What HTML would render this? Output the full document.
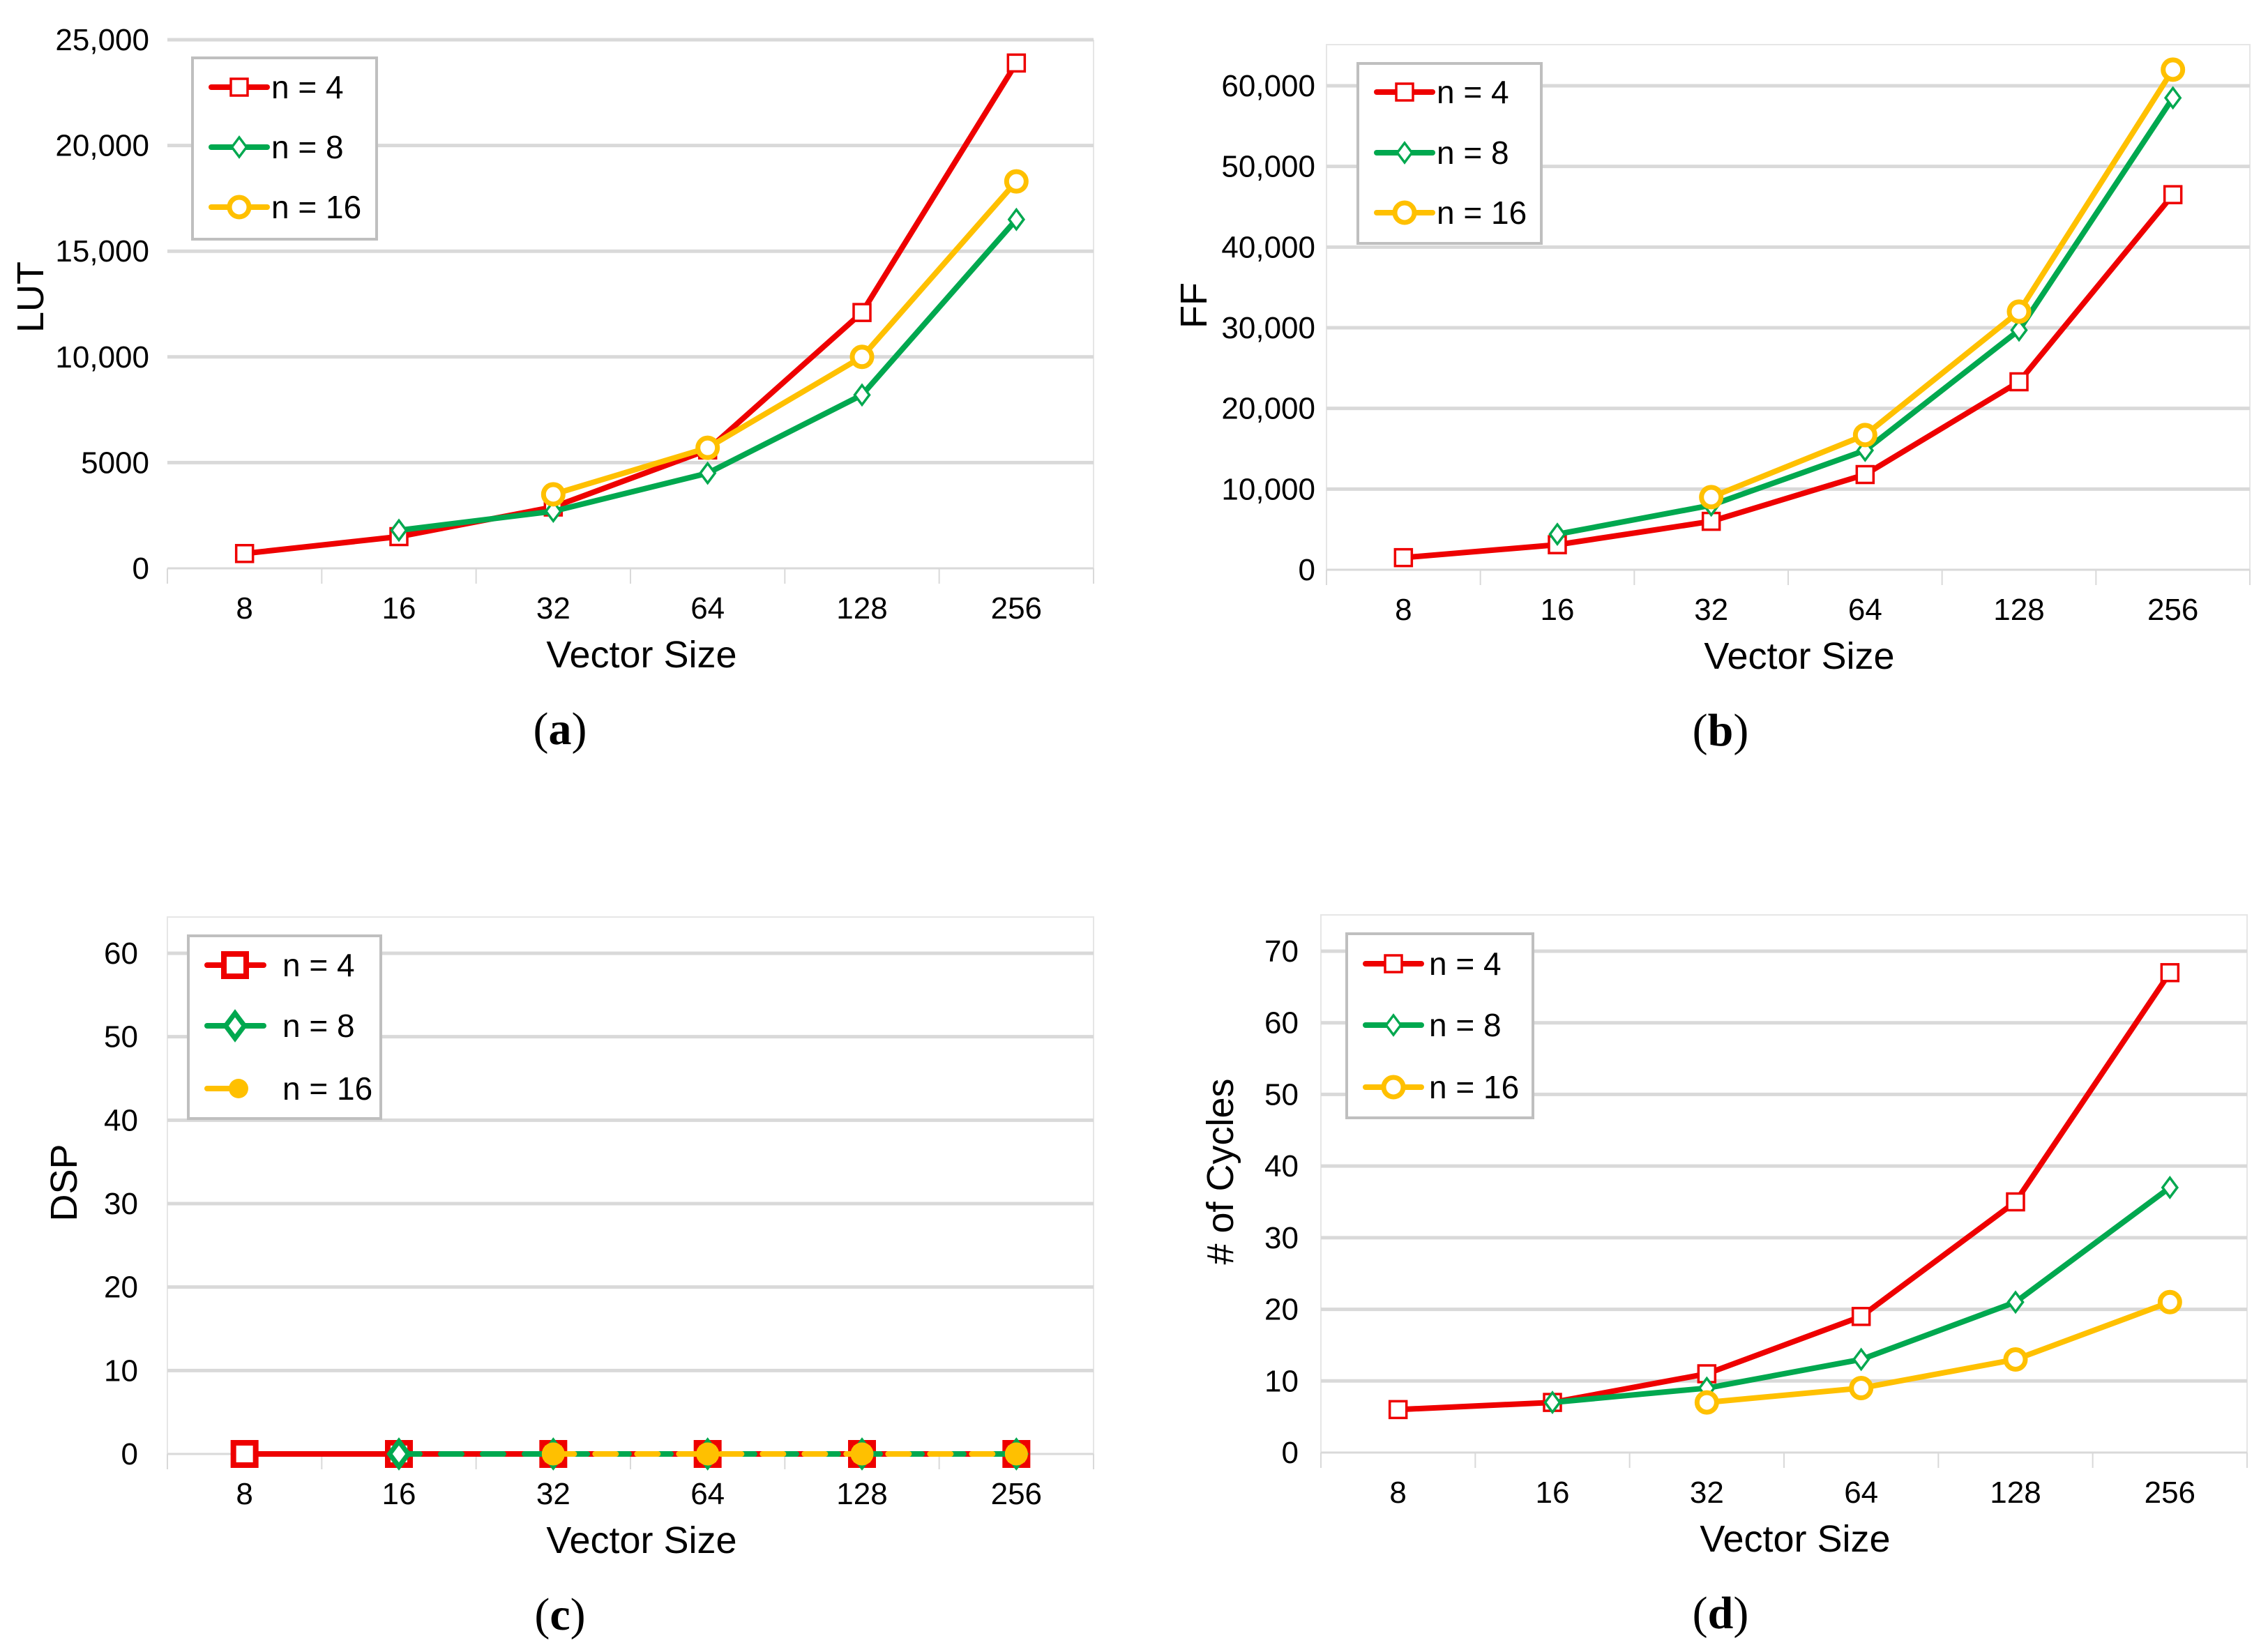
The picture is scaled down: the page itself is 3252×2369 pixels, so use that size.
<!DOCTYPE html>
<html><head><meta charset="utf-8"><style>
html,body{margin:0;padding:0;background:#fff}
svg{display:block}
text{font-family:"Liberation Sans",sans-serif;fill:#000}
text.cap{font-family:"Liberation Serif",serif}
</style></head><body>
<svg id="fig" width="3252" height="2369" viewBox="0 0 3252 2369" xmlns="http://www.w3.org/2000/svg"></svg>
<script>
const categories = ['8','16','32','64','128','256'];
const seriesNames = ['n = 4','n = 8','n = 16'];
// Panel a (LUT)
const lutN4 = [700,1500,2900,5600,12100,23900];
const lutN8 = [null,1800,2700,4500,8200,16500];
const lutN16 = [null,null,3500,5700,10000,18300];
const lutTicks = [0,5000,10000,15000,20000,25000];
const lutTickLabels = ['0','5000','10,000','15,000','20,000','25,000'];
// Panel b (FF)
const ffN4 = [1500,3100,6000,11800,23300,46500];
const ffN8 = [null,4400,8000,14800,29700,58500];
const ffN16 = [null,null,9000,16700,32000,62000];
const ffTicks = [0,10000,20000,30000,40000,50000,60000];
const ffTickLabels = ['0','10,000','20,000','30,000','40,000','50,000','60,000'];
// Panel c (DSP)
const dspN4 = [0,0,0,0,0,0];
const dspN8 = [null,0,0,0,0,0];
const dspN16 = [null,null,0,0,0,0];
const dspTicks = [0,10,20,30,40,50,60];
const dspTickLabels = ['0','10','20','30','40','50','60'];
// Panel d (Cycles)
const cycN4 = [6,7,11,19,35,67];
const cycN8 = [null,7,9,13,21,37];
const cycN16 = [null,null,7,9,13,21];
const cycTicks = [0,10,20,30,40,50,60,70];
const cycTickLabels = ['0','10','20','30','40','50','60','70'];

const NS='http://www.w3.org/2000/svg';
const svg=document.getElementById('fig');
const COLORS=['#ee0000','#00a84f','#ffc000'];
function mk(tag,attrs,parent){const e=document.createElementNS(NS,tag);for(const k in attrs)e.setAttribute(k,attrs[k]);(parent||svg).appendChild(e);return e;}

function panel(cfg){
  const g=mk('g',{});
  
  
  const {x0,x1,yBase,yMaxPix,vMax,frameTop}=cfg;
  const ys=v=>yBase-(v/vMax)*(yBase-yMaxPix);
  const cw=(x1-x0)/categories.length;
  const xs=i=>x0+cw*(i+0.5);
  if(frameTop!==undefined){
    const f=mk('rect',{x:x0,y:frameTop,width:x1-x0,height:yBase-frameTop,fill:'none',stroke:'#e6e6e6','stroke-width':2},g);
    
    
  } else {
    mk('line',{x1:x1,y1:yMaxPix,x2:x1,y2:yBase,stroke:'#e6e6e6','stroke-width':2},g);
  }
  cfg.ticks.forEach((t,i)=>{
    const y=ys(t);
    const gl=mk('line',{x1:x0,y1:y,x2:x1,y2:y,stroke:'#d9d9d9','stroke-width':t===0?3:5},g);
    
    
    const tl=mk('text',{x:cfg.tickRight,y:y+15,'text-anchor':'end','font-size':44},g);
    tl.textContent=cfg.tickLabels[i];
    
    
  });
  for(let i=0;i<=categories.length;i++){
    mk('line',{x1:x0+cw*i,y1:yBase,x2:x0+cw*i,y2:yBase+22,stroke:'#d9d9d9','stroke-width':2},g);
  }
  categories.forEach((c,i)=>{
    const t=mk('text',{x:xs(i),y:yBase+72,'text-anchor':'middle','font-size':44},g);
    t.textContent=c;
    
    
  });
  const xt=mk('text',{x:(x0+x1)/2+16,y:yBase+142,'text-anchor':'middle','font-size':54},g);
  xt.textContent='Vector Size';
  
  
  const yt=mk('text',{x:0,y:0,'text-anchor':'middle','font-size':54,transform:`translate(${cfg.ylx},${cfg.yly}) rotate(-90)`},g);
  yt.textContent=cfg.ylabel;
  
  
  const cap=mk('text',{x:cfg.capx,y:yBase+252,'text-anchor':'middle','font-size':66,'class':'cap'},g);
  cap.innerHTML='(<tspan font-weight="bold">'+cfg.cap+'</tspan>)';
  
  
  cfg.series.forEach((data,s)=>{
    const sg=mk('g',{},g);
    
    
    const pts=[];data.forEach((v,i)=>{if(v!==null)pts.push([xs(i),ys(v)]);});
    const dash=cfg.dsp&&s>0?'30 30':'none';
    const pl=mk('polyline',{points:pts.map(p=>p.join(',')).join(' '),fill:'none',stroke:COLORS[s],'stroke-width':8,'stroke-linejoin':'round','stroke-linecap':'round','stroke-dasharray':dash},sg);
    
    
    pts.forEach(p=>marker(sg,s,p[0],p[1],cfg.dsp));
  });
  const L=cfg.legend;
  const lr=mk('rect',{x:L.x,y:L.y,width:L.w,height:L.h,fill:'#fff',stroke:'#bfbfbf','stroke-width':4},g);
  
  
  seriesNames.forEach((n,s)=>{
    const lg=mk('g',{},g);
    
    
    const cy=L.rows[s];
    const lx0=L.x+27, lx1=L.x+(cfg.dsp?(s===2?60:108):107);
    mk('line',{x1:lx0,y1:cy,x2:lx1,y2:cy,stroke:COLORS[s],'stroke-width':8,'stroke-linecap':'round'},lg);
    if(cfg.dsp&&s===2){mk('circle',{cx:L.x+72,cy:cy,r:14,fill:COLORS[2]},lg);}
    else marker(lg,s,L.x+67,cy,cfg.dsp);
    const t=mk('text',{x:L.x+L.tx,y:cy+16,'font-size':46},lg);
    t.textContent=n;
  });
}
function marker(par,s,x,y,dsp){
  let m;
  if(s===0){const h=dsp?16:12;m=mk('rect',{x:x-h,y:y-h,width:2*h,height:2*h,fill:'#fff',stroke:COLORS[0],'stroke-width':dsp?8:3.5},par);}
  else if(s===1){const h=dsp?18:14;m=mk('polygon',{points:`${x},${y-h} ${x+h*0.75},${y} ${x},${y+h} ${x-h*0.75},${y}`,fill:'#fff',stroke:COLORS[1],'stroke-width':dsp?7:3.5},par);}
  else {m=mk('circle',{cx:x,cy:y,r:dsp?13:14,fill:dsp?COLORS[2]:'#fff',stroke:COLORS[2],'stroke-width':7},par);}
  
  
}
panel({name:'lut',x0:240,x1:1568,yBase:815,yMaxPix:57,vMax:25000,ticks:lutTicks,tickLabels:lutTickLabels,tickRight:214,ylabel:'LUT',ylx:62,yly:426,cap:'a',capx:803,
  series:[lutN4,lutN8,lutN16],legend:{x:276,y:83,w:264,h:260,rows:[125,211,297],tx:113}});
panel({name:'ff',x0:1902,x1:3226,yBase:817,yMaxPix:123,vMax:60000,frameTop:64,ticks:ffTicks,tickLabels:ffTickLabels,tickRight:1886,ylabel:'FF',ylx:1730,yly:438,cap:'b',capx:2467,
  series:[ffN4,ffN8,ffN16],legend:{x:1947,y:91,w:263,h:258,rows:[132,219,305],tx:113}});
panel({name:'dsp',x0:240,x1:1568,yBase:2085,yMaxPix:1367,vMax:60,frameTop:1315,ticks:dspTicks,tickLabels:dspTickLabels,tickRight:198,ylabel:'DSP',ylx:110,yly:1696,cap:'c',capx:803,dsp:true,
  series:[dspN4,dspN8,dspN16],legend:{x:270,y:1342,w:276,h:262,rows:[1384,1471,1561],tx:135}});
panel({name:'cycles',x0:1894,x1:3222,yBase:2083,yMaxPix:1364,vMax:70,frameTop:1312,ticks:cycTicks,tickLabels:cycTickLabels,tickRight:1862,ylabel:'# of Cycles',ylx:1768,yly:1680,cap:'d',capx:2467,
  series:[cycN4,cycN8,cycN16],legend:{x:1931,y:1339,w:267,h:264,rows:[1382,1470,1559],tx:118}});
</script>
</body></html>
